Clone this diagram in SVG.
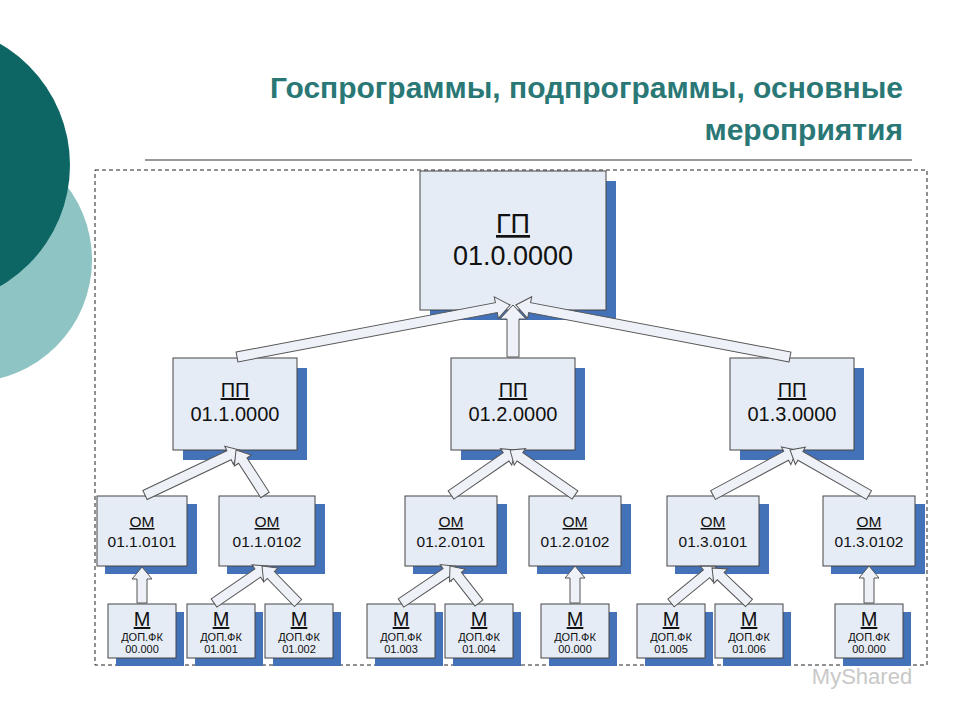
<svg xmlns="http://www.w3.org/2000/svg" width="960" height="720" viewBox="0 0 960 720">
<style>
text{font-family:"Liberation Sans",Arial,sans-serif;fill:#111;text-anchor:middle}
.box{fill:#E6ECF6;stroke:#444;stroke-width:1}
.sh{fill:#4472B8}
.ar{fill:#EEF2F8;stroke:#555;stroke-width:1}
.t{fill:#2A7876;text-anchor:end;font-size:30px;font-weight:bold}
.s{font-size:11px}
</style>
<rect width="960" height="720" fill="#fff"/>
<circle cx="-30" cy="260" r="122" fill="#8FC4C4"/>
<circle cx="-70" cy="165" r="140" fill="#0D6664"/>
<text class="t" x="903" y="98">Госпрограммы, подпрограммы, основные</text>
<text class="t" x="903" y="140">мероприятия</text>
<line x1="145" y1="160" x2="912" y2="160" stroke="#333" stroke-width="1"/>
<rect x="95" y="170" width="832" height="495" fill="none" stroke="#222" stroke-dasharray="4,3"/>

<g id="gp"><rect class="sh" x="430" y="181" width="186" height="139"/><rect class="box" x="420" y="171" width="186" height="139"/>
<text x="513" y="233" font-size="27" text-decoration="underline">ГП</text><text x="513" y="265" font-size="27">01.0.0000</text></g>

<g id="pp1"><rect class="sh" x="183" y="368" width="124" height="92"/><rect class="box" x="173" y="358" width="124" height="92"/><text x="235" y="397" font-size="20" text-decoration="underline">ПП</text><text x="235" y="421" font-size="20">01.1.0000</text></g>
<g id="pp2"><rect class="sh" x="461" y="368" width="124" height="92"/><rect class="box" x="451" y="358" width="124" height="92"/><text x="513" y="397" font-size="20" text-decoration="underline">ПП</text><text x="513" y="421" font-size="20">01.2.0000</text></g>
<g id="pp3"><rect class="sh" x="740" y="368" width="124" height="92"/><rect class="box" x="730" y="358" width="124" height="92"/><text x="792" y="397" font-size="20" text-decoration="underline">ПП</text><text x="792" y="421" font-size="20">01.3.0000</text></g>

<g id="om11"><rect class="sh" x="105" y="504" width="92" height="70"/><rect class="box" x="97" y="496" width="90" height="70"/><text x="142" y="527" font-size="15.5" text-decoration="underline">ОМ</text><text x="142" y="547" font-size="15.5">01.1.0101</text></g>
<g id="om12"><rect class="sh" x="227" y="504" width="98" height="70"/><rect class="box" x="219" y="496" width="96" height="70"/><text x="267" y="527" font-size="15.5" text-decoration="underline">ОМ</text><text x="267" y="547" font-size="15.5">01.1.0102</text></g>
<g id="om21"><rect class="sh" x="413" y="504" width="94" height="70"/><rect class="box" x="405" y="496" width="92" height="70"/><text x="451" y="527" font-size="15.5" text-decoration="underline">ОМ</text><text x="451" y="547" font-size="15.5">01.2.0101</text></g>
<g id="om22"><rect class="sh" x="537" y="504" width="94" height="70"/><rect class="box" x="529" y="496" width="92" height="70"/><text x="575" y="527" font-size="15.5" text-decoration="underline">ОМ</text><text x="575" y="547" font-size="15.5">01.2.0102</text></g>
<g id="om31"><rect class="sh" x="675" y="504" width="94" height="70"/><rect class="box" x="667" y="496" width="92" height="70"/><text x="713" y="527" font-size="15.5" text-decoration="underline">ОМ</text><text x="713" y="547" font-size="15.5">01.3.0101</text></g>
<g id="om32"><rect class="sh" x="831" y="504" width="94" height="70"/><rect class="box" x="823" y="496" width="92" height="70"/><text x="869" y="527" font-size="15.5" text-decoration="underline">ОМ</text><text x="869" y="547" font-size="15.5">01.3.0102</text></g>

<g id="m1"><rect class="sh" x="116" y="612" width="68" height="54"/><rect class="box" x="108" y="604" width="68" height="54"/><text x="142" y="626" font-size="20" text-decoration="underline">М</text><text class="s" x="142" y="641">ДОП.ФК</text><text class="s" x="142" y="653">00.000</text></g>
<g id="m2"><rect class="sh" x="195" y="612" width="68" height="54"/><rect class="box" x="187" y="604" width="68" height="54"/><text x="221" y="626" font-size="20" text-decoration="underline">М</text><text class="s" x="221" y="641">ДОП.ФК</text><text class="s" x="221" y="653">01.001</text></g>
<g id="m3"><rect class="sh" x="273" y="612" width="68" height="54"/><rect class="box" x="265" y="604" width="68" height="54"/><text x="299" y="626" font-size="20" text-decoration="underline">М</text><text class="s" x="299" y="641">ДОП.ФК</text><text class="s" x="299" y="653">01.002</text></g>
<g id="m4"><rect class="sh" x="375" y="612" width="68" height="54"/><rect class="box" x="367" y="604" width="68" height="54"/><text x="401" y="626" font-size="20" text-decoration="underline">М</text><text class="s" x="401" y="641">ДОП.ФК</text><text class="s" x="401" y="653">01.003</text></g>
<g id="m5"><rect class="sh" x="453" y="612" width="68" height="54"/><rect class="box" x="445" y="604" width="68" height="54"/><text x="479" y="626" font-size="20" text-decoration="underline">М</text><text class="s" x="479" y="641">ДОП.ФК</text><text class="s" x="479" y="653">01.004</text></g>
<g id="m6"><rect class="sh" x="549" y="612" width="68" height="54"/><rect class="box" x="541" y="604" width="68" height="54"/><text x="575" y="626" font-size="20" text-decoration="underline">М</text><text class="s" x="575" y="641">ДОП.ФК</text><text class="s" x="575" y="653">00.000</text></g>
<g id="m7"><rect class="sh" x="645" y="612" width="68" height="54"/><rect class="box" x="637" y="604" width="68" height="54"/><text x="671" y="626" font-size="20" text-decoration="underline">М</text><text class="s" x="671" y="641">ДОП.ФК</text><text class="s" x="671" y="653">01.005</text></g>
<g id="m8"><rect class="sh" x="723" y="612" width="68" height="54"/><rect class="box" x="715" y="604" width="68" height="54"/><text x="749" y="626" font-size="20" text-decoration="underline">М</text><text class="s" x="749" y="641">ДОП.ФК</text><text class="s" x="749" y="653">01.006</text></g>
<g id="m9"><rect class="sh" x="843" y="612" width="68" height="54"/><rect class="box" x="835" y="604" width="68" height="54"/><text x="869" y="626" font-size="20" text-decoration="underline">М</text><text class="s" x="869" y="641">ДОП.ФК</text><text class="s" x="869" y="653">00.000</text></g>

<g id="connectors">
<path class="ar" transform="translate(237,357) rotate(-10.78)" d="M0,-5H264V-11L278,0L264,11V5H0Z"/>
<path class="ar" transform="translate(513,357) rotate(-90)" d="M0,-6H38V-13L52,0L38,13V6H0Z"/>
<path class="ar" transform="translate(790,357) rotate(-169.25)" d="M0,-5H265V-11L279,0L265,11V5H0Z"/>
<path class="ar" transform="translate(145,495) rotate(-25.35)" d="M0,-5H93V-10L105,0L93,10V5H0Z"/>
<path class="ar" transform="translate(265,495) rotate(-122.8)" d="M0,-5H41V-10L53.5,0L41,10V5H0Z"/>
<path class="ar" transform="translate(451,495) rotate(-34.7)" d="M0,-5H67V-10L79,0L67,10V5H0Z"/>
<path class="ar" transform="translate(575,495) rotate(-145.3)" d="M0,-5H67V-10L79,0L67,10V5H0Z"/>
<path class="ar" transform="translate(713,495) rotate(-28.2)" d="M0,-5H83V-10L95,0L83,10V5H0Z"/>
<path class="ar" transform="translate(869,495) rotate(-150.3)" d="M0,-5H79V-10L91,0L79,10V5H0Z"/>
<path class="ar" transform="translate(142,603) rotate(-90)" d="M0,-5H24V-10L36,0L24,10V5H0Z"/>
<path class="ar" transform="translate(214,603) rotate(-34.4)" d="M0,-5H53V-10L65.5,0L53,10V5H0Z"/>
<path class="ar" transform="translate(298,603) rotate(-134.2)" d="M0,-5H39V-10L51.6,0L39,10V5H0Z"/>
<path class="ar" transform="translate(401,603) rotate(-33.9)" d="M0,-5H54V-10L66,0L54,10V5H0Z"/>
<path class="ar" transform="translate(479,603) rotate(-128.1)" d="M0,-5H35V-10L47,0L35,10V5H0Z"/>
<path class="ar" transform="translate(575,603) rotate(-90)" d="M0,-5H25V-10L37,0L25,10V5H0Z"/>
<path class="ar" transform="translate(671,603) rotate(-39.4)" d="M0,-5H46V-10L58,0L46,10V5H0Z"/>
<path class="ar" transform="translate(749,603) rotate(-136.5)" d="M0,-5H39V-10L51,0L39,10V5H0Z"/>
<path class="ar" transform="translate(869,603) rotate(-90)" d="M0,-5H25V-10L37,0L25,10V5H0Z"/>
</g>
<text x="862" y="684" font-size="22" style="fill:#c8c8c8">MyShared</text>
</svg>
